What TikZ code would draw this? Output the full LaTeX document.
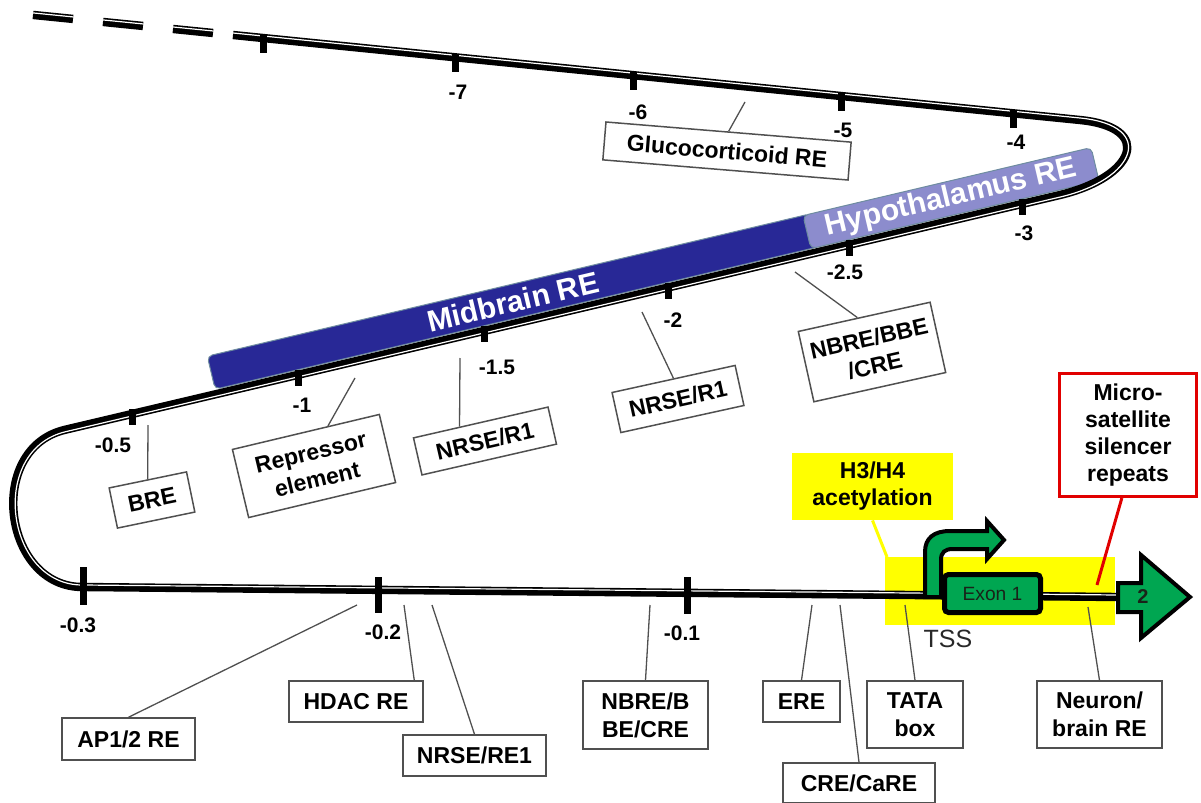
\documentclass[tikz,border=0pt]{standalone}
\usepackage{fontspec}
\setmainfont{Liberation Sans}
\usetikzlibrary{calc}
\definecolor{midblue}{RGB}{40,40,150}
\definecolor{hypblue}{RGB}{140,140,205}
\definecolor{barbord}{RGB}{110,140,160}
\definecolor{exgreen}{RGB}{0,166,81}
\definecolor{ylw}{RGB}{255,255,0}
\definecolor{rd}{RGB}{225,0,0}
\definecolor{boxgray}{RGB}{80,80,80}
\begin{document}
\begin{tikzpicture}[x=0.5pt,y=-0.5pt,
  lbl/.style={draw=boxgray,line width=0.75pt,fill=white,inner sep=0pt,align=center,font=\bfseries\fontsize{11.5}{14}\selectfont},
  conn/.style={draw=boxgray,line width=0.65pt},
  tk/.style={line width=3.5pt},
  tkl/.style={font=\bfseries\fontsize{10.5}{12}\selectfont,inner sep=0pt},
  bar/.style={rotate=13.28,draw=barbord,line width=0.5pt,rounded corners=2.5pt,inner sep=0pt,minimum height=17pt,text=white,font=\bfseries\fontsize{15}{17}\selectfont},
  dnablack/.style={line width=4.2pt},
  dnawhite/.style={white,line width=0.6pt},
]
\useasboundingbox (0,0) rectangle (1201,803);

% region bars
\node[bar,fill=midblue,minimum width=310pt] (mid) at (512.9,301.5) {Midbrain RE};
\node[bar,fill=hypblue,minimum width=148pt] (hyp) at (951,198.1) {Hypothalamus RE};

% yellow acetylation region
\fill[ylw] (885,557) rectangle (1115,625);

% DNA line
\foreach \a/\b in {33/73,103/143,173/213}{
  \draw[dnablack] (\a,{38+0.1003*(\a-263)}) -- (\b,{38+0.1003*(\b-263)});
  \draw[dnawhite] (\a+0.2,{38+0.1003*(\a-263)-2}) -- (\b+0.2,{38+0.1003*(\b-263)-2});
}
\draw[dnablack] (233,35) -- (1080,120) .. controls (1155,127.5) and (1135,177) .. (1060,195)
  -- (65,429.8) .. controls (-15,448.7) and (3,587.8) .. (83,587) -- (1117,597);
\draw[dnawhite] (233.2,33) -- (1080.2,118) .. controls (1157.5,125.8) and (1135.6,179.5) .. (1060.46,196.95)
  -- (65.46,431.75) .. controls (-12.5,450.5) and (5.5,585.8) .. (83,585) -- (1117,595);

% ticks
\foreach \x in {263,455,633,841,1013}
  \draw[tk] (\x,{38+0.1003*(\x-263)-3}) -- (\x,{38+0.1003*(\x-263)+15});
\foreach \x in {1022,849,668,484,298,132}
  \draw[tk] (\x,{414-0.236*(\x-132)-5}) -- (\x,{414-0.236*(\x-132)+11});
\draw[tk] (83,567) -- (83,605);
\draw[tk] (378,577) -- (378,613);
\draw[tk] (687,577) -- (687,614);

% tick labels
\node[tkl] (t7) at (458,92) {-7};
\node[tkl] (t6) at (638,112) {-6};
\node[tkl] (t5) at (843,130) {-5};
\node[tkl] (t4) at (1016,142) {-4};
\node[tkl] (t3) at (1024,233) {-3};
\node[tkl] (t25) at (845,272) {-2.5};
\node[tkl] (t2) at (673,320) {-2};
\node[tkl] (t15) at (497,367) {-1.5};
\node[tkl] (t1) at (302,405) {-1};
\node[tkl] (t05) at (113,445) {-0.5};
\node[tkl] (t03) at (78,625) {-0.3};
\node[tkl] (t02) at (383,632) {-0.2};
\node[tkl] (t01) at (682,633) {-0.1};

% gene structure
\draw[line width=2pt,fill=exgreen,line join=miter]
  (925,597) -- (925,552) .. controls (925,538) and (934,531) .. (950,531) -- (987,531) -- (987,521)
  -- (1004,540) -- (987,559) -- (987,549) -- (953,549) .. controls (945,549) and (941,552) .. (941,560)
  -- (941,597) -- cycle;
\node[draw=black,line width=2.5pt,fill=exgreen,rounded corners=2pt,minimum width=48pt,minimum height=19pt,inner sep=0pt,font=\fontsize{9.6}{11}\selectfont,text={rgb,255:red,25;green,35;blue,25}] (ex1) at (992.5,593.5) {Exon 1};
\draw[line width=2pt,fill=exgreen,line join=miter]
  (1118,583) -- (1141,583) -- (1141,555) -- (1190,597) -- (1141,638) -- (1141,612) -- (1118,612) -- cycle;
\node[inner sep=0pt,font=\bfseries\fontsize{10}{12}\selectfont,text={rgb,255:red,25;green,35;blue,25}] (ex2) at (1143,597) {2};
\node[inner sep=0pt,font=\fontsize{12.5}{14}\selectfont,text={rgb,255:red,40;green,40;blue,40}] (tss) at (948,639) {TSS};

% upper labels
\node[lbl,rotate=-4.7,minimum width=123pt,minimum height=19pt] (glu) at (727,151) {Glucocorticoid RE};
\node[lbl,rotate=11.7,minimum width=39.5pt,minimum height=20.5pt] (bre) at (152,500) {BRE};
\node[lbl,rotate=13.4,minimum width=75.5pt,minimum height=35pt] (rep) at (314,466) {Repressor\\element};
\node[lbl,rotate=12.9,minimum width=69pt,minimum height=19pt] (nrsea) at (485,441) {NRSE/R1};
\node[lbl,rotate=12.4,minimum width=63pt,minimum height=20.5pt] (nrseb) at (678,399) {NRSE/R1};
\node[lbl,rotate=12.5,minimum width=67.5pt,minimum height=36pt] (nbrea) at (872,352) {NBRE/BBE\\/CRE};

\coordinate (cglu) at (745,102);
\coordinate (cbre) at (148,425);
\coordinate (crep) at (355,378);
\coordinate (cnrsea) at (460,358);
\coordinate (cnrseb) at (642,312);
\coordinate (cnbrea) at (795,272);
\draw[conn] (cglu) -- (glu.north);
\draw[conn] (cbre) -- (bre.north);
\draw[conn] (crep) -- ($(rep.north west)!0.65!(rep.north east)$);
\draw[conn] (cnrsea) -- ($(nrsea.north west)!0.345!(nrsea.north east)$);
\draw[conn] (cnrseb) -- (nrseb.north);
\draw[conn] (cnbrea) -- ($(nbrea.north west)!0.45!(nbrea.north east)$);

% lower labels
\node[lbl,minimum width=66.5pt,minimum height=21pt] (ap) at (128.5,739) {AP1/2 RE};
\node[lbl,minimum width=67pt,minimum height=20.5pt] (hdac) at (356,701.5) {HDAC RE};
\node[lbl,minimum width=71.5pt,minimum height=20.5pt] (nrsere) at (474.5,755.5) {NRSE/RE1};
\node[lbl,minimum width=62.5pt,minimum height=34pt] (nbreb) at (645.5,715) {NBRE/B\\BE/CRE};
\node[lbl,minimum width=38.5pt,minimum height=20.5pt] (ere) at (801.5,701.5) {ERE};
\node[lbl,minimum width=76pt,minimum height=20pt] (care) at (859,783) {CRE/CaRE};
\node[lbl,minimum width=48pt,minimum height=33.5pt] (tata) at (915,714.5) {TATA\\box};
\node[lbl,minimum width=62.5pt,minimum height=33.5pt] (neuron) at (1099.5,714.5) {Neuron/\\brain RE};

\coordinate (cap) at (357,605);
\coordinate (chdac) at (404,605);
\coordinate (cnrsere) at (432,605);
\coordinate (cnbreb) at (650,605);
\coordinate (cere) at (812,605);
\coordinate (ccare) at (840,605);
\coordinate (ctata) at (905,605);
\coordinate (cneuron) at (1088,607);
\draw[conn] (cap) -- (ap.north);
\draw[conn] (chdac) -- ($(hdac.north west)!0.93!(hdac.north east)$);
\draw[conn] (cnrsere) -- (nrsere.north);
\draw[conn] (cnbreb) -- (nbreb.north);
\draw[conn] (cere) -- (ere.north);
\draw[conn] (ccare) -- (care.north);
\draw[conn] (ctata) -- (tata.north);
\draw[conn] (cneuron) -- (neuron.north);

% acetylation and microsatellite
\node[fill=ylw,inner sep=0pt,minimum width=80.5pt,minimum height=33.5pt,align=center,font=\bfseries\fontsize{11.5}{13.5}\selectfont] (h3) at (872.5,486.5) {H3/H4\\acetylation};
\coordinate (cyel) at (887,557);
\draw[ylw,line width=1.5pt] (h3.south) -- (cyel);
\node[draw=rd,line width=1.5pt,fill=white,inner sep=0pt,minimum width=68.5pt,minimum height=61.5pt,align=center,font=\bfseries\fontsize{11.5}{13.5}\selectfont] (micro) at (1128,435) {Micro-\\satellite\\silencer\\repeats};
\coordinate (cred) at (1097,585);
\draw[rd,line width=1.5pt] ($(micro.south west)!0.456!(micro.south east)$) -- (cred);
\end{tikzpicture}
\end{document}
